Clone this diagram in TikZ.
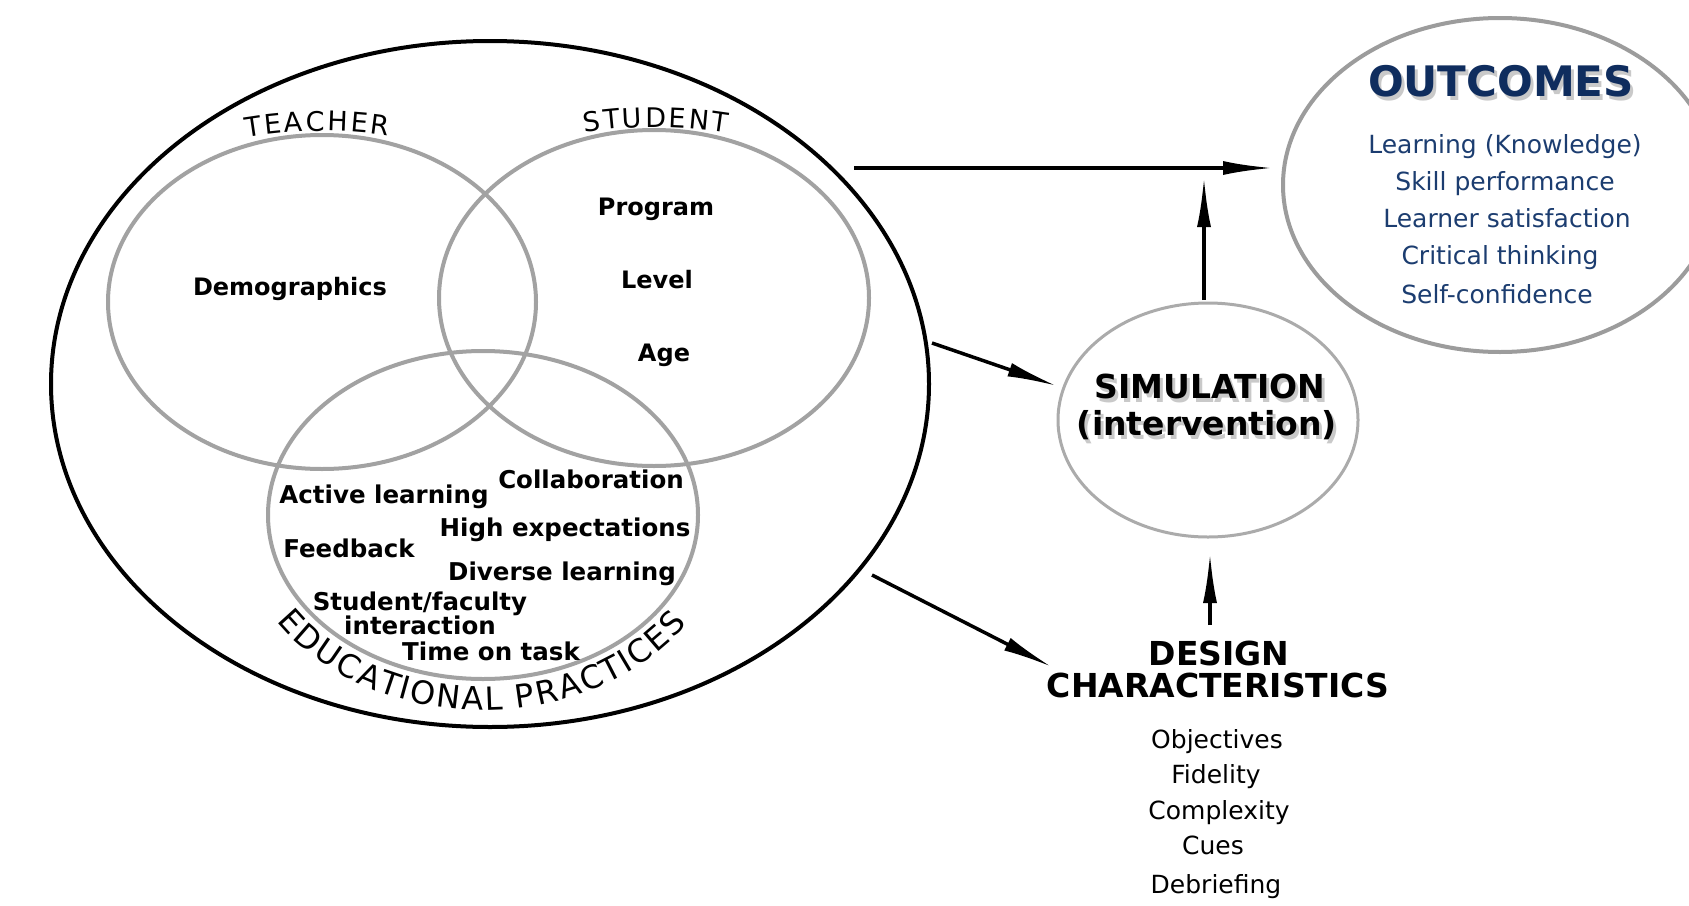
\documentclass[tikz,border=0pt]{standalone}
\usepackage{fontspec}
\setmainfont{DejaVu Sans}
\usetikzlibrary{shapes.geometric,arrows.meta,decorations.text,calc}
\definecolor{venngray}{HTML}{A2A2A2}
\definecolor{ringgray}{HTML}{9C9C9C}
\definecolor{navy}{HTML}{1C3D70}
\definecolor{navydark}{HTML}{0F2D5E}
\newcommand\myfs[1]{\fontsize{#1}{#1}\selectfont}
\tikzset{
  ring/.style={ellipse, draw=venngray, line width=4pt, inner sep=0pt},
  lbl/.style={anchor=base, inner sep=0pt, font=\bfseries\myfs{24}},
  edu/.style={anchor=base, inner sep=0pt, font=\bfseries\myfs{24.5}},
  outitem/.style={anchor=base, inner sep=0pt, font=\myfs{25}, text=navy},
  dsitem/.style={anchor=base, inner sep=0pt, font=\myfs{25}},
  bigbold/.style={anchor=base, inner sep=0pt, font=\bfseries\myfs{33}},
  outtitle/.style={anchor=base, inner sep=0pt, font=\bfseries\myfs{42}},
  shadowtext/.style={text=black!35, opacity=0.6},
  arr/.style={line width=3.5pt, -{Latex[length=50pt,width=14pt]}},
  spaced/.style={decorate, decoration={text effects along path, text={#1},
      text effects/.cd, text along path, fit text to path}},
}
\begin{document}
\begin{tikzpicture}[x=1pt,y=1pt]
\useasboundingbox (0,0) rectangle (1689,-905);
\fill[white] (0,0) rectangle (1689,-905);
\clip (0,0) rectangle (1689,-905);

% ---- Venn diagram ----
\node[ellipse, draw=black, line width=4pt, inner sep=0pt,
      minimum width=878pt, minimum height=686pt] (venn) at (490,-384) {};
\node[ring, minimum width=428pt, minimum height=334pt] (teacher) at (322,-302) {};
\node[ring, minimum width=430pt, minimum height=336pt] (student) at (654,-298) {};
\node[ring, minimum width=430pt, minimum height=328pt] (practices) at (483,-515) {};

\path[spaced={TEACHER}, font=\myfs{27}] ($(321,-581)+(99.5:450pt)$)
     arc[start angle=99.5, end angle=81.4, radius=450pt];
\path[spaced={STUDENT}, font=\myfs{27}] ($(656,-577)+(99.1:450pt)$)
     arc[start angle=99.1, end angle=80.9, radius=450pt];
\path[spaced={EDUCATIONAL PRACTICES}, font=\myfs{32}] ($(483,-515)+(213:246pt and 195pt)$)
     arc[start angle=213, end angle=326, x radius=246pt, y radius=195pt];

\node[lbl] (demo) at (290,-295) {Demographics};
\node[lbl] (prog) at (656,-215) {Program};
\node[lbl] (level) at (657,-288) {Level};
\node[lbl] (age) at (664,-361) {Age};

\node[edu] (collab) at (591,-488) {Collaboration};
\node[edu] (active) at (384,-503) {Active learning};
\node[edu] (highexp) at (565,-536) {High expectations};
\node[edu] (feedback) at (349,-557) {Feedback};
\node[edu] (diverse) at (562,-580) {Diverse learning};
\node[edu] (stfac) at (420,-610) {Student/faculty};
\node[edu] (inter) at (420,-634) {interaction};
\node[edu] (time) at (491,-660) {Time on task};

% ---- Outcomes ----
\node[ellipse, draw=ringgray, line width=4pt, inner sep=0pt,
      minimum width=434pt, minimum height=334pt] (out) at (1500,-185) {};
\node[outtitle, shadowtext] (outsh) at (1504,-100) {OUTCOMES};
\node[outtitle, text=navydark] (outt) at (1501,-96) {OUTCOMES};
\node[outitem] (o1) at (1505,-153) {Learning (Knowledge)};
\node[outitem] (o2) at (1505,-190) {Skill performance};
\node[outitem] (o3) at (1507,-227) {Learner satisfaction};
\node[outitem] (o4) at (1500,-264) {Critical thinking};
\node[outitem] (o5) at (1497,-303) {Self-confidence};

% ---- Simulation ----
\node[ellipse, draw=ringgray!85, line width=3pt, inner sep=0pt,
      minimum width=300pt, minimum height=234pt] (sim) at (1208,-420) {};
\node[bigbold, shadowtext] (simsha) at (1213,-402) {SIMULATION};
\node[bigbold, shadowtext] (simshb) at (1210,-439) {(intervention)};
\node[bigbold] (sim1) at (1210,-398) {SIMULATION};
\node[bigbold] (sim2) at (1207,-435) {(intervention)};

% ---- Design characteristics ----
\node[bigbold] (des1) at (1219,-665) {DESIGN};
\node[bigbold] (des2) at (1218,-697) {CHARACTERISTICS};
\node[dsitem] (d1) at (1217,-748) {Objectives};
\node[dsitem] (d2) at (1216,-783) {Fidelity};
\node[dsitem] (d3) at (1219,-819) {Complexity};
\node[dsitem] (d4) at (1213,-854) {Cues};
\node[dsitem] (d5) at (1216,-893) {Debriefing};

% ---- Arrows ----
\coordinate (a1s) at (854,-168);
\coordinate (a1e) at (1273,-168);
\coordinate (a2s) at (1204,-300);
\coordinate (a2e) at (1204,-177);
\coordinate (a3s) at (932,-343);
\coordinate (a3e) at (1057,-386);
\coordinate (a4s) at (872,-575);
\coordinate (a4e) at (1052,-667);
\coordinate (a5s) at (1210,-625);
\coordinate (a5e) at (1210,-553);
\draw[arr] (a1s) -- (a1e);
\draw[arr] (a2s) -- (a2e);
\draw[arr] (a3s) -- (a3e);
\draw[arr] (a4s) -- (a4e);
\draw[arr] (a5s) -- (a5e);
\end{tikzpicture}
\end{document}
